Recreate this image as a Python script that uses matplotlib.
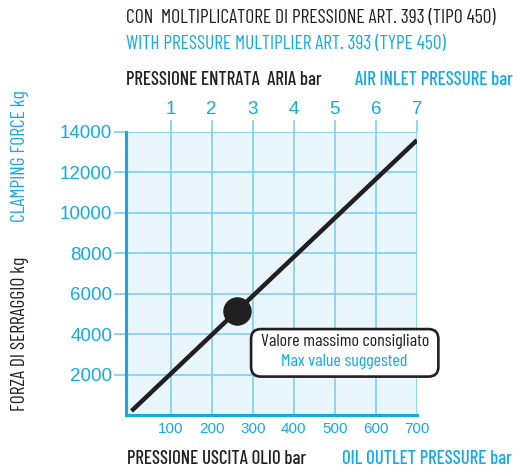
import matplotlib.pyplot as plt
from matplotlib.patches import FancyBboxPatch

# data
oil_pressure = [5, 700]          # bar
clamping_force = [200, 13600]    # kg
max_oil = 262
max_force = 5150
oil_ticks = [100, 200, 300, 400, 500, 600, 700]
air_ticks = [1, 2, 3, 4, 5, 6, 7]
force_ticks = [2000, 4000, 6000, 8000, 10000, 12000, 14000]

blue = '#13aae8'
grid_blue = '#7fd0f3'
dark = '#231f20'
narrow = ['Barlow Condensed', 'Asap Condensed', 'Archivo Narrow', 'DejaVu Sans']
sans = ['Liberation Sans', 'DejaVu Sans']

fig = plt.figure(figsize=(5.18, 4.70), dpi=100)
ax = fig.add_axes([126/518, 1-415/470, (417-126)/518, (415-132)/470])
ax.set_facecolor('#eaf6fd')
ax.set_xlim(-8.5, 700)
ax.set_ylim(0, 14000)

ax.grid(True, color=grid_blue, lw=1.2, zorder=0)
ax.set_axisbelow(True)
for s in ['top', 'right']:
    ax.spines[s].set_visible(False)
for s in ['left', 'bottom']:
    ax.spines[s].set_color(blue)
    ax.spines[s].set_linewidth(2.2)

ax.set_xticks(oil_ticks)
ax.set_yticks(force_ticks)
ax.tick_params(axis='x', length=0, pad=5, labelsize=11, labelcolor=blue)
ax.tick_params(axis='y', length=9, width=1.2, color=grid_blue, pad=1,
               labelsize=13.5, labelcolor=blue)
for lab in ax.get_xticklabels() + ax.get_yticklabels():
    lab.set_family(sans)

top = ax.secondary_xaxis('top', functions=(lambda x: x/100, lambda x: x*100))
top.set_xticks(air_ticks)
top.spines['top'].set_visible(False)
top.tick_params(length=9, width=1.2, color=grid_blue, pad=1,
                labelsize=13.5, labelcolor=blue)
for lab in top.get_xticklabels():
    lab.set_family(sans)

ax.plot(oil_pressure, clamping_force, color=dark, lw=3.2,
        solid_capstyle='butt', zorder=3)
ax.plot([max_oil], [max_force], 'o', color=dark, ms=19.5, zorder=4)

# annotation box
box = FancyBboxPatch((296, 1900), 456, 2350, boxstyle='round,pad=0,rounding_size=24',
                     transform=ax.transData, fc='white', ec=dark, lw=1.9,
                     clip_on=False, zorder=5, mutation_aspect=20)
ax.add_patch(box)
ax.text(524, 3640, 'Valore massimo consigliato', ha='center', va='center',
        color=dark, fontsize=13, family=narrow, zorder=6, clip_on=False)
ax.text(524, 2640, 'Max value suggested', ha='center', va='center',
        color=blue, fontsize=13, family=narrow, zorder=6, clip_on=False)

# titles and axis captions
fig.text(126/518, 1-18/470, 'CON  MOLTIPLICATORE DI PRESSIONE ART. 393 (TIPO 450)',
         color=dark, fontsize=14, family=narrow, va='center')
fig.text(126/518, 1-44/470, 'WITH PRESSURE MULTIPLIER ART. 393 (TYPE 450)',
         color=blue, fontsize=14, family=narrow, va='center')
fig.text(126/518, 1-80/470, 'PRESSIONE ENTRATA  ARIA bar',
         color=dark, fontsize=13.5, family=narrow, va='center', weight='medium')
fig.text(513/518, 1-80/470, 'AIR INLET PRESSURE bar',
         color=blue, fontsize=13.5, family=narrow, va='center', ha='right',
         weight='medium')
fig.text(127/518, 1-459/470, 'PRESSIONE USCITA OLIO bar',
         color=dark, fontsize=13.5, family=narrow, va='center', weight='medium')
fig.text(512/518, 1-459/470, 'OIL OUTLET PRESSURE bar',
         color=blue, fontsize=13.5, family=narrow, va='center', ha='right',
         weight='medium')
fig.text(20/518, 1-156/470, 'CLAMPING FORCE kg', rotation=90,
         color=blue, fontsize=14, family=narrow, va='center', ha='center')
fig.text(20/518, 1-334/470, 'FORZA DI SERRAGGIO kg', rotation=90,
         color=dark, fontsize=14, family=narrow, va='center', ha='center')

fig.savefig('out.png', dpi=100)
